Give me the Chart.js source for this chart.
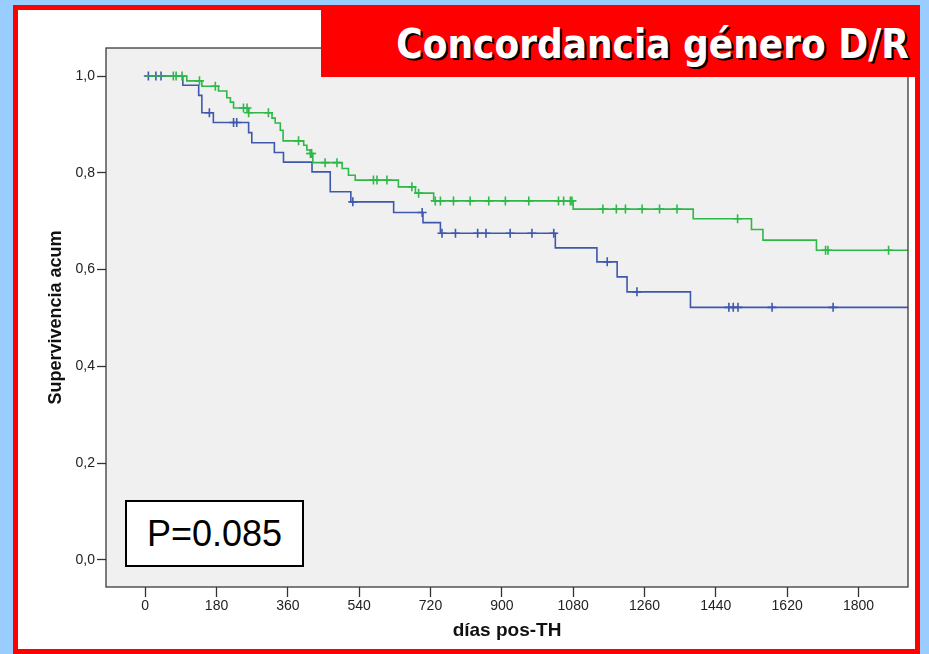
<!DOCTYPE html>
<html>
<head>
<meta charset="utf-8">
<script src="https://cdn.jsdelivr.net/npm/chart.js@4.4.1/dist/chart.umd.min.js"></script>
<style>
  html, body { margin:0; padding:0; }
  body { width:929px; height:654px; overflow:hidden; background:#99ccff; position:relative; font-family:"Liberation Sans", Arial, sans-serif; }
  #frame { position:absolute; left:13px; top:5px; width:907px; height:649px; box-sizing:border-box; border:5px solid #ff0000; background:#ffffff; }
  #c { position:absolute; left:0; top:0; }
  #title { position:absolute; left:321px; top:10px; width:594px; height:67px; background:#ff0000; }
  #title span { position:absolute; right:6px; top:10px; color:#fff; font-family:"DejaVu Sans Condensed","DejaVu Sans",sans-serif; font-stretch:condensed; font-weight:bold; font-size:40px; line-height:48px; white-space:nowrap; text-shadow:2px 2px 0 #000; }
  #pbox { position:absolute; left:125px; top:500px; width:179px; height:67px; box-sizing:border-box; border:2px solid #000; background:#fff; font-family:"Liberation Sans", Arial, sans-serif; font-size:36px; line-height:63px; text-align:center; color:#000; }
</style>
</head>
<body>
<div id="frame"></div>
<canvas id="c" width="929" height="654"></canvas>
<div id="title"><span>Concordancia género D/R</span></div>
<div id="pbox">P=0.085</div>
<script>
// ---- data ----
const xTicks = [0, 180, 360, 540, 720, 900, 1080, 1260, 1440, 1620, 1800];
const yTicks = [0, 0.2, 0.4, 0.6, 0.8, 1.0];

// blue group: step times (days) and cumulative survival after each step
const blueTimes = [0, 95, 135, 143, 172, 261, 269, 326, 349, 421, 467, 519, 627, 701, 745, 1035, 1140, 1191, 1216, 1376, 1925];
const blueSurv  = [1.0, 0.981, 0.960, 0.924, 0.904, 0.883, 0.862, 0.842, 0.822, 0.802, 0.761, 0.740, 0.718, 0.697, 0.675, 0.645, 0.616, 0.585, 0.554, 0.522, 0.522];
const blueCensored = [8, 27, 40, 162, 223, 231, 524, 699, 749, 783, 839, 860, 921, 976, 1031, 1166, 1241, 1473, 1484, 1496, 1582, 1736];

// green group
const greenTimes = [0, 105, 143, 185, 206, 215, 223, 261, 320, 328, 341, 348, 400, 408, 417, 423, 497, 513, 530, 639, 682, 728, 1080, 1383, 1530, 1559, 1694, 1925];
const greenSurv  = [1.0, 0.990, 0.979, 0.969, 0.955, 0.946, 0.934, 0.924, 0.913, 0.903, 0.888, 0.866, 0.857, 0.847, 0.840, 0.821, 0.809, 0.795, 0.785, 0.771, 0.758, 0.742, 0.725, 0.705, 0.683, 0.661, 0.640, 0.640];
const greenCensored = [71, 78, 93, 137, 177, 248, 257, 261, 311, 387, 417, 420, 454, 484, 576, 585, 610, 673, 690, 732, 745, 778, 820, 867, 909, 968, 1043, 1056, 1073, 1077, 1155, 1189, 1212, 1254, 1298, 1342, 1495, 1717, 1723, 1876];

const BLUE = '#3E58AC';
const GREEN = '#2EB848';

function stepPoints(times, surv) {
  return times.map((t, i) => ({ x: t, y: surv[i] }));
}
function survAt(times, surv, t) {
  let v = surv[0];
  for (let i = 0; i < times.length; i++) { if (times[i] <= t) v = surv[i]; }
  return v;
}
function censorPoints(times, surv, cens) {
  return cens.map(t => ({ x: t, y: survAt(times, surv, t) }));
}

const plotBg = {
  id: 'plotBg',
  beforeDatasetsDraw(chart) {
    const { ctx, chartArea: a } = chart;
    ctx.save();
    ctx.fillStyle = '#f0f0f0';
    ctx.fillRect(a.left, a.top, a.right - a.left, a.bottom - a.top);
    ctx.restore();
  },
  afterDatasetsDraw(chart) {
    const { ctx, chartArea: a } = chart;
    ctx.save();
    ctx.strokeStyle = '#3a3a3a';
    ctx.lineWidth = 1.3;
    ctx.strokeRect(a.left, a.top, a.right - a.left, a.bottom - a.top);
    ctx.restore();
  }
};

const censorStyle = (color) => ({
  type: 'scatter',
  showLine: false,
  pointStyle: 'cross',
  radius: 4.5,
  borderWidth: 1.6,
  borderColor: color,
  backgroundColor: color,
});

new Chart(document.getElementById('c'), {
  type: 'line',
  data: {
    datasets: [
      { data: stepPoints(greenTimes, greenSurv), stepped: 'before', borderColor: GREEN, borderWidth: 1.6, pointRadius: 0, fill: false },
      { data: censorPoints(greenTimes, greenSurv, greenCensored), ...censorStyle(GREEN) },
      { data: stepPoints(blueTimes, blueSurv), stepped: 'before', borderColor: BLUE, borderWidth: 1.6, pointRadius: 0, fill: false },
      { data: censorPoints(blueTimes, blueSurv, blueCensored), ...censorStyle(BLUE) },
    ]
  },
  options: {
    responsive: false,
    animation: false,
    devicePixelRatio: 1,
    layout: { padding: { left: 40, top: 48, right: 21, bottom: 10 } },
    plugins: { legend: { display: false }, tooltip: { enabled: false } },
    scales: {
      x: {
        type: 'linear',
        min: -98.9, max: 1925,
        afterBuildTicks: (s) => { s.ticks = xTicks.map(v => ({ value: v })); },
        afterFit: (s) => { s.height = 57; },
        grid: { display: true, drawOnChartArea: false, drawTicks: true, tickLength: 10, tickColor: '#333', tickWidth: 1.3 },
        border: { display: false },
        ticks: { color: '#222', font: { family: 'Liberation Sans', size: 14 }, padding: 1, maxRotation: 0, autoSkip: false, callback: (v) => String(v) },
        title: { display: true, text: 'días pos-TH', color: '#111', font: { family: 'Liberation Sans', size: 19, weight: 'bold' }, padding: { top: 0, bottom: 2 } }
      },
      y: {
        type: 'linear',
        min: -0.0558, max: 1.0579,
        afterBuildTicks: (s) => { s.ticks = yTicks.map(v => ({ value: v })); },
        afterFit: (s) => { s.width = 66; },
        grid: { display: true, drawOnChartArea: false, drawTicks: true, tickLength: 9, tickColor: '#333', tickWidth: 1.3 },
        border: { display: false },
        ticks: { color: '#222', font: { family: 'Liberation Sans', size: 14 }, padding: 2, callback: (v) => v.toFixed(1).replace('.', ',') },
        title: { display: true, text: 'Supervivencia acum', color: '#111', font: { family: 'Liberation Sans', size: 18, weight: 'bold' }, padding: { top: 5, bottom: 0 } }
      }
    }
  },
  plugins: [plotBg]
});
</script>
</body>
</html>
